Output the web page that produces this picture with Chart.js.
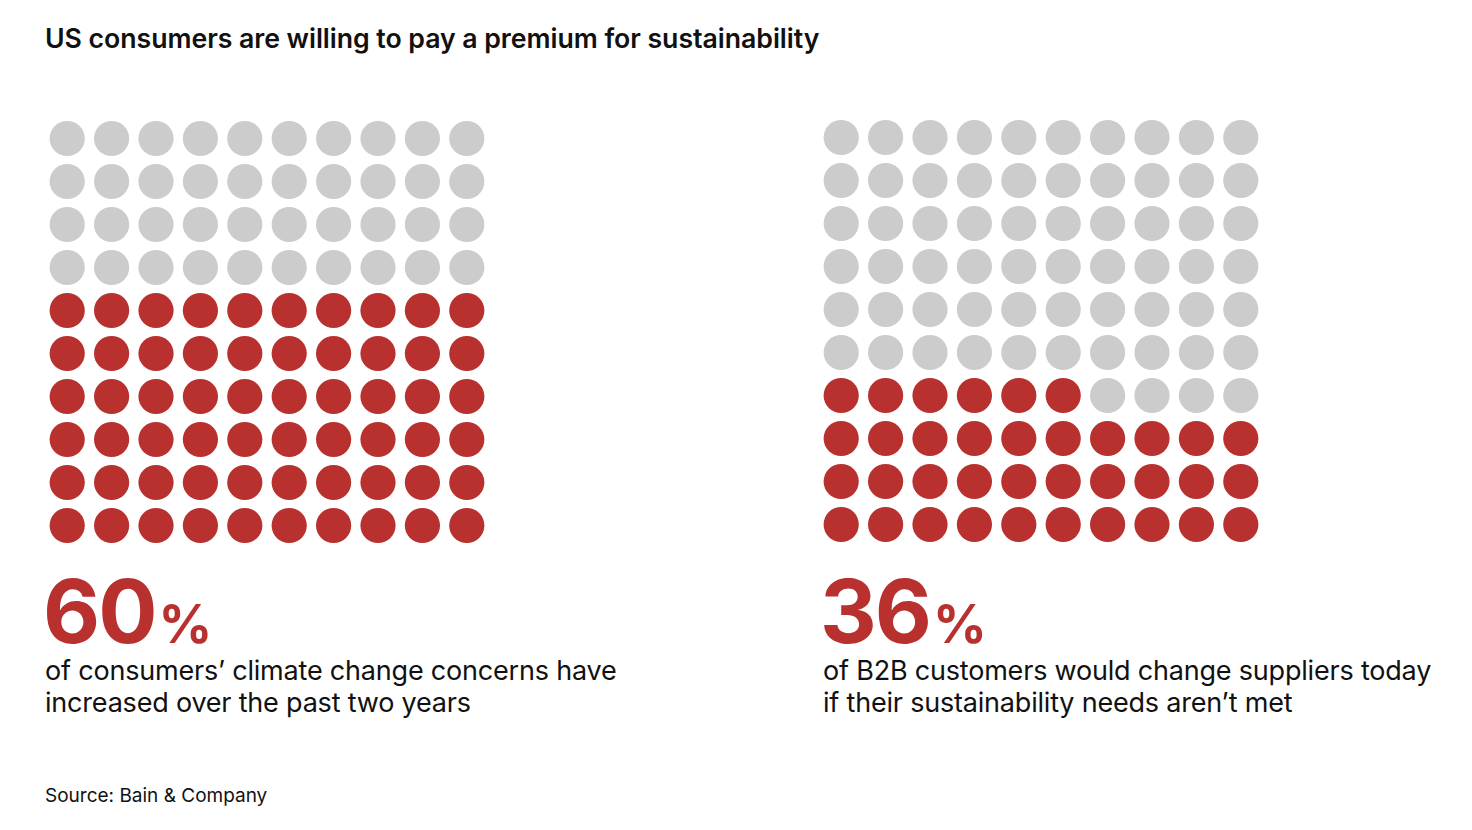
<!DOCTYPE html>
<html>
<head>
<meta charset="utf-8">
<script src="https://cdn.jsdelivr.net/npm/chart.js@4"></script>
<style>
  body { margin: 0; background: #fff; font-family: Inter, "Noto Sans", sans-serif; color: #111; }
  #page { position: relative; width: 1472px; height: 830px; overflow: hidden; }
  .title { position: absolute; left: 45px; top: 22px; font-size: 26.7px; font-weight: 600; letter-spacing: -0.05px; line-height: 32px; }
  .wrap { position: absolute; width: 444px; height: 430px; }
  .big { position: absolute; top: 566px; font-size: 88px; font-weight: 700; color: #b8312f; line-height: 90px; letter-spacing: -2px; }
  .big span { font-size: 53px; letter-spacing: 0; margin-left: 3px; }
  .desc { position: absolute; top: 655px; font-size: 27px; line-height: 32px; letter-spacing: -0.2px; }
  .source { position: absolute; left: 45px; top: 784px; font-size: 19px; line-height: 24px; }
</style>
</head>
<body>
<div id="page">
  <div class="title">US consumers are willing to pay a premium for sustainability</div>

  <div class="wrap" style="left:44.8px; top:116.5px;"><canvas id="waffleLeft"></canvas></div>
  <div class="wrap" style="left:818.8px; top:116px;"><canvas id="waffleRight"></canvas></div>

  <div class="big" style="left:43px;">60<span>%</span></div>
  <div class="desc" style="left:45px;">of consumers’ climate change concerns have<br>increased over the past two years</div>

  <div class="big" style="left:820px;">36<span>%</span></div>
  <div class="desc" style="left:823px;">of B2B customers would change suppliers today<br>if their sustainability needs aren’t met</div>

  <div class="source">Source: Bain &amp; Company</div>
</div>

<script>
// share of 100 dots that are highlighted
const leftValue = 60;
const rightValue = 36;
const gridCols = 10;
const gridRows = 10;

const red = "#b8312f";
const grey = "#cccccc";

// fill from bottom row up, left to right
function waffle(canvasId, value) {
  const points = [];
  const colors = [];
  for (let k = 0; k < gridCols * gridRows; k++) {
    points.push({ x: k % gridCols, y: Math.floor(k / gridCols) });
    colors.push(k < value ? red : grey);
  }
  new Chart(document.getElementById(canvasId), {
    type: "scatter",
    data: {
      datasets: [{
        data: points,
        pointRadius: 17.6,
        pointHoverRadius: 17.6,
        pointBackgroundColor: colors,
        pointBorderWidth: 0,
        clip: false,
      }],
    },
    options: {
      responsive: true,
      maintainAspectRatio: false,
      animation: false,
      layout: { padding: 0, autoPadding: false },
      scales: {
        x: { display: false, min: -0.5, max: gridCols - 0.5 },
        y: { display: false, min: -0.5, max: gridRows - 0.5 },
      },
      plugins: { legend: { display: false }, tooltip: { enabled: false } },
    },
  });
}

waffle("waffleLeft", leftValue);
waffle("waffleRight", rightValue);
</script>
</body>
</html>
